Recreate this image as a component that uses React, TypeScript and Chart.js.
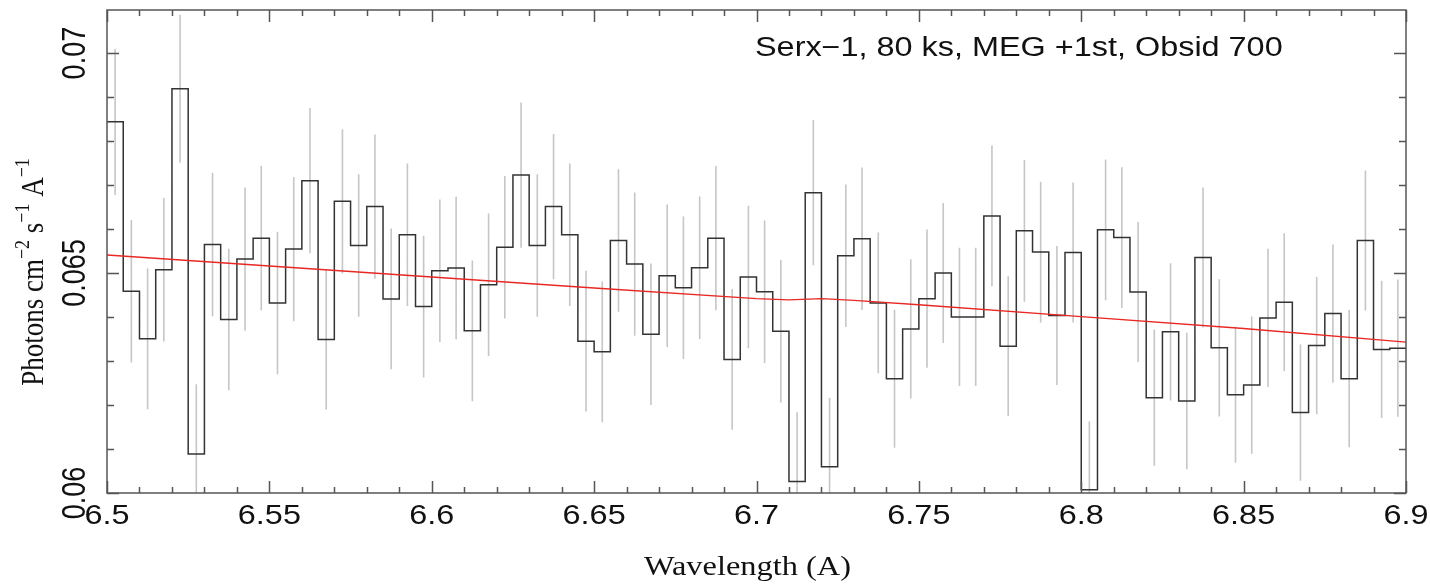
import React, { useEffect, useRef } from 'react';
import { Chart, registerables } from 'chart.js';

Chart.register(...registerables);

// ---- data ----
const binLow = [
  6.500, 6.505, 6.510, 6.515, 6.520, 6.525, 6.530, 6.535, 6.540, 6.545,
  6.550, 6.555, 6.560, 6.565, 6.570, 6.575, 6.580, 6.585, 6.590, 6.595,
  6.600, 6.605, 6.610, 6.615, 6.620, 6.625, 6.630, 6.635, 6.640, 6.645,
  6.650, 6.655, 6.660, 6.665, 6.670, 6.675, 6.680, 6.685, 6.690, 6.695,
  6.700, 6.705, 6.710, 6.715, 6.720, 6.725, 6.730, 6.735, 6.740, 6.745,
  6.750, 6.755, 6.760, 6.765, 6.770, 6.775, 6.780, 6.785, 6.790, 6.795,
  6.800, 6.805, 6.810, 6.815, 6.820, 6.825, 6.830, 6.835, 6.840, 6.845,
  6.850, 6.855, 6.860, 6.865, 6.870, 6.875, 6.880, 6.885, 6.890, 6.895,
];
const binWidth = 0.005;

const flux = [
  0.068437, 0.064585, 0.063504, 0.065076, 0.069192, 0.060884, 0.065650, 0.063943, 0.065317, 0.065793,
  0.064320, 0.065544, 0.067100, 0.063489, 0.066631, 0.065627, 0.066511, 0.064411, 0.065869, 0.064237,
  0.065053, 0.065113, 0.063686, 0.064736, 0.065589, 0.067228, 0.065627, 0.066511, 0.065869, 0.063452,
  0.063210, 0.065740, 0.065204, 0.063610, 0.064940, 0.064668, 0.065121, 0.065793, 0.063036, 0.064909,
  0.064577, 0.063678, 0.060264, 0.066828, 0.060597, 0.065393, 0.065778, 0.064320, 0.062598, 0.063731,
  0.064418, 0.065000, 0.064003, 0.064003, 0.066299, 0.063338, 0.065959, 0.065476, 0.064033, 0.065468,
  0.060076, 0.065982, 0.065808, 0.064570, 0.062168, 0.063663, 0.062092, 0.065355, 0.063300, 0.062236,
  0.062455, 0.063980, 0.064335, 0.061828, 0.063353, 0.064079, 0.062598, 0.065740, 0.063263, 0.063293,
];

const fluxErr = [
  0.00166, 0.00162, 0.00160, 0.00163, 0.00168, 0.00159, 0.00163, 0.00161, 0.00163, 0.00164,
  0.00162, 0.00164, 0.00165, 0.00159, 0.00164, 0.00162, 0.00164, 0.00160, 0.00162, 0.00161,
  0.00162, 0.00162, 0.00160, 0.00162, 0.00162, 0.00165, 0.00162, 0.00165, 0.00162, 0.00160,
  0.00160, 0.00162, 0.00163, 0.00161, 0.00162, 0.00162, 0.00162, 0.00164, 0.00160, 0.00162,
  0.00162, 0.00162, 0.00157, 0.00165, 0.00157, 0.00162, 0.00162, 0.00160, 0.00157, 0.00158,
  0.00157, 0.00159, 0.00157, 0.00157, 0.00160, 0.00159, 0.00161, 0.00160, 0.00158, 0.00159,
  0.00155, 0.00160, 0.00160, 0.00159, 0.00155, 0.00156, 0.00155, 0.00159, 0.00156, 0.00155,
  0.00156, 0.00157, 0.00157, 0.00155, 0.00156, 0.00157, 0.00156, 0.00159, 0.00156, 0.00156,
];

const modelWave = [6.50, 6.55, 6.60, 6.65, 6.70, 6.71, 6.72, 6.73, 6.75, 6.80, 6.85, 6.90];
const modelFlux = [0.06541, 0.06516, 0.06491, 0.06466, 0.06442, 0.06439, 0.06442, 0.06438, 0.06428, 0.06401, 0.06374, 0.06343];

const xTickValues = [6.5, 6.55, 6.6, 6.65, 6.7, 6.75, 6.8, 6.85, 6.9];
const xTickLabels = ['6.5', '6.55', '6.6', '6.65', '6.7', '6.75', '6.8', '6.85', '6.9'];
const yTickValues = [0.06, 0.065, 0.07];
const yTickLabels = ['0.06', '0.065', '0.07'];
const xMinorStep = 0.01;
const yMinorStep = 0.001;

const X_MIN = 6.5;
const X_MAX = 6.9;
const Y_MIN = 0.06;
const Y_MAX = 0.07098;

const annotationText = 'Serx\u22121, 80 ks, MEG +1st, Obsid 700';
const xTitle = 'Wavelength (A)';
const yTitleParts: [string, boolean][] = [
  ['Photons cm', false],
  ['\u22122', true],
  [' s', false],
  ['\u22121', true],
  [' A', false],
  ['\u22121', true],
];

// ---- drawing helpers ----
const SANS = "'Liberation Sans', Arial, sans-serif";
const SERIF = "'Liberation Serif', 'Times New Roman', serif";
const STRETCH = 1.2;
const TEXT_COLOR = '#111';
const AXIS_COLOR = '#555';

function drawText(
  ctx: CanvasRenderingContext2D,
  text: string,
  x: number,
  y: number,
  font: string,
  align: CanvasTextAlign,
  rotate = 0
) {
  ctx.save();
  ctx.translate(x, y);
  ctx.scale(STRETCH, 1);
  if (rotate) ctx.rotate(rotate);
  ctx.font = font;
  ctx.fillStyle = TEXT_COLOR;
  ctx.textAlign = align;
  ctx.textBaseline = 'alphabetic';
  ctx.fillText(text, 0, 0);
  ctx.restore();
}

const framePlugin = {
  id: 'framePlugin',
  afterDatasetsDraw(chart: any) {
    const { ctx, chartArea: a, scales } = chart;
    const xs = scales.x;
    const ys = scales.y;
    ctx.save();
    ctx.strokeStyle = AXIS_COLOR;
    ctx.lineWidth = 1.5;
    ctx.strokeRect(a.left, a.top, a.right - a.left, a.bottom - a.top);

    ctx.beginPath();
    const nx = Math.round((X_MAX - X_MIN) / xMinorStep);
    for (let i = 0; i <= nx; i++) {
      const v = X_MIN + i * xMinorStep;
      const px = Math.round(xs.getPixelForValue(v)) + 0.5;
      const major = xTickValues.some((t) => Math.abs(t - v) < 1e-9);
      const len = major ? 12 : 6;
      ctx.moveTo(px, a.bottom);
      ctx.lineTo(px, a.bottom - len);
      ctx.moveTo(px, a.top);
      ctx.lineTo(px, a.top + len);
    }
    const ny = Math.floor((Y_MAX - Y_MIN) / yMinorStep + 1e-9);
    for (let i = 0; i <= ny; i++) {
      const v = Y_MIN + i * yMinorStep;
      const py = Math.round(ys.getPixelForValue(v)) + 0.5;
      const major = yTickValues.some((t) => Math.abs(t - v) < 1e-9);
      const len = major ? 12 : 7;
      ctx.moveTo(a.left, py);
      ctx.lineTo(a.left + len, py);
      ctx.moveTo(a.right, py);
      ctx.lineTo(a.right - len, py);
    }
    ctx.stroke();
    ctx.restore();

    // x tick labels
    xTickValues.forEach((v, i) => {
      drawText(ctx, xTickLabels[i], xs.getPixelForValue(v), 524, `27px ${SANS}`, 'center');
    });
    // y tick labels (rotated, reading upward)
    yTickValues.forEach((v, i) => {
      drawText(ctx, yTickLabels[i], 85, ys.getPixelForValue(v), `27px ${SANS}`, 'center', -Math.PI / 2);
    });

    // x title
    drawText(ctx, xTitle, (a.left + a.right) / 2 - 9, 575, `27px ${SERIF}`, 'center');

    // y title with superscripts
    ctx.save();
    ctx.translate(43, 272);
    ctx.scale(STRETCH, 1);
    ctx.rotate(-Math.PI / 2);
    ctx.fillStyle = TEXT_COLOR;
    ctx.textBaseline = 'alphabetic';
    ctx.textAlign = 'left';
    const mainFont = `27px ${SERIF}`;
    const supFont = `18px ${SERIF}`;
    let total = 0;
    yTitleParts.forEach(([t, sup]) => {
      ctx.font = sup ? supFont : mainFont;
      total += ctx.measureText(t).width;
    });
    let u = -total / 2;
    yTitleParts.forEach(([t, sup]) => {
      ctx.font = sup ? supFont : mainFont;
      ctx.fillText(t, u, sup ? -12 : 0);
      u += ctx.measureText(t).width;
    });
    ctx.restore();

    // annotation
    drawText(ctx, annotationText, 755, 56, `27px ${SANS}`, 'left');
  },
};

export default function App() {
  const canvasRef = useRef<HTMLCanvasElement | null>(null);

  useEffect(() => {
    const canvas = canvasRef.current;
    if (!canvas) return;

    const stepData = binLow.map((w, i) => ({ x: w, y: flux[i] }));
    stepData.push({ x: binLow[binLow.length - 1] + binWidth, y: flux[flux.length - 1] });

    const errData: { x: number; y: number | null }[] = [];
    binLow.forEach((w, i) => {
      const c = w + binWidth / 2;
      errData.push({ x: c, y: flux[i] - fluxErr[i] });
      errData.push({ x: c, y: flux[i] + fluxErr[i] });
      errData.push({ x: c, y: null });
    });

    const modelData = modelWave.map((w, i) => ({ x: w, y: modelFlux[i] }));

    const chart = new Chart(canvas, {
      type: 'line',
      data: {
        datasets: [
          {
            label: 'Model',
            data: modelData,
            borderColor: 'rgb(232, 40, 36)',
            borderWidth: 1.3,
            pointRadius: 0,
            tension: 0,
            order: 0,
          },
          {
            label: 'Data',
            data: stepData,
            stepped: true,
            borderColor: '#333333',
            borderWidth: 1.5,
            pointRadius: 0,
            order: 1,
          },
          {
            label: 'Errors',
            data: errData as any,
            borderColor: '#c6c6c6',
            borderWidth: 1.6,
            pointRadius: 0,
            spanGaps: false,
            order: 2,
          },
        ],
      },
      options: {
        responsive: false,
        animation: false,
        events: [],
        layout: { padding: { left: 107, right: 24, top: 10, bottom: 91 } },
        plugins: {
          legend: { display: false },
          tooltip: { enabled: false },
        },
        scales: {
          x: { type: 'linear', min: X_MIN, max: X_MAX, display: false },
          y: { type: 'linear', min: Y_MIN, max: Y_MAX, display: false },
        },
      },
      plugins: [framePlugin],
    });

    return () => chart.destroy();
  }, []);

  return (
    <div style={{ position: 'absolute', left: 0, top: 0, width: 1430, height: 584, background: '#fff' }}>
      <canvas ref={canvasRef} width={1430} height={584} style={{ display: 'block' }} />
    </div>
  );
}
